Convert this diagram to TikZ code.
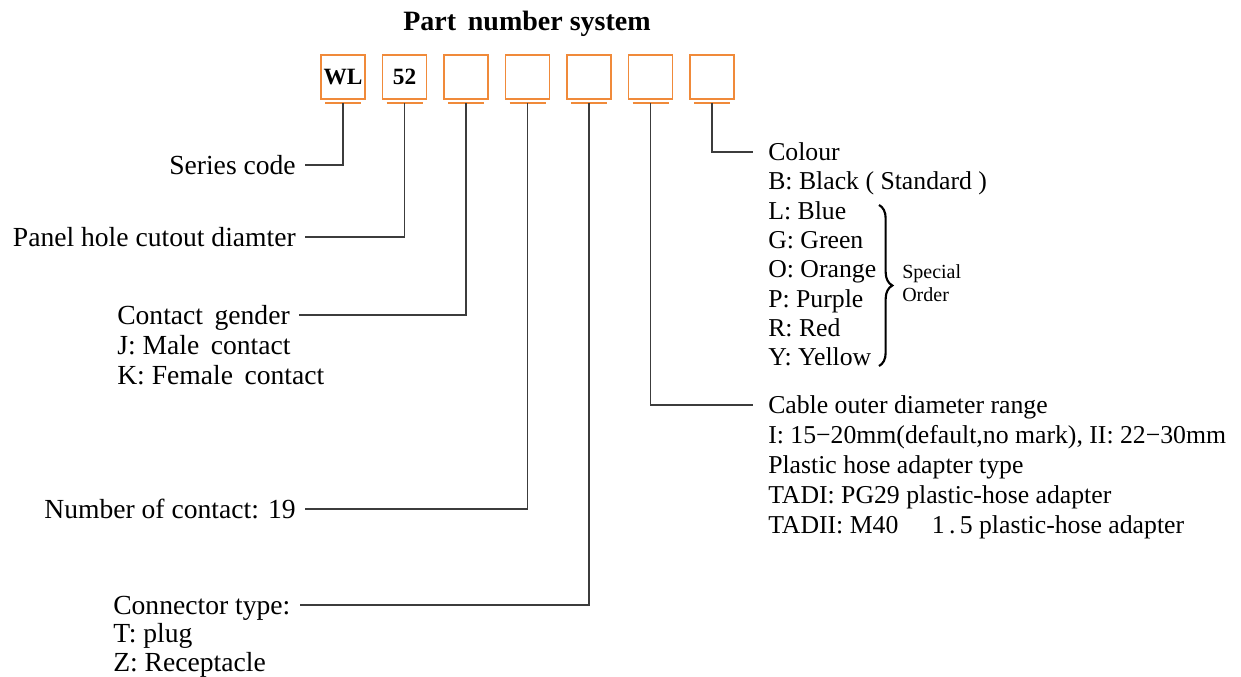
\documentclass[tikz,border=0pt]{standalone}
\usepackage{fontspec}
\setmainfont{Liberation Serif}
\usetikzlibrary{decorations.pathreplacing}
\definecolor{boxorange}{RGB}{240,138,58}
\definecolor{linegray}{RGB}{60,60,60}
\tikzset{
  pbox/.style={draw=boxorange,line width=1.3pt,minimum width=33pt,minimum height=33pt,inner sep=0pt,font=\fontsize{17.5}{20}\selectfont\bfseries},
  uline/.style={draw=boxorange,line width=1.2pt},
  conn/.style={draw=linegray,line width=1pt},
  lt/.style={inner xsep=6.75pt,inner ysep=0pt,text height=13.7pt,text depth=0pt,font=\fontsize{20.7}{24}\selectfont},
  rt/.style={inner xsep=11.25pt,inner ysep=0pt,text height=12.8pt,text depth=0pt,font=\fontsize{19.3}{22}\selectfont},
  small/.style={inner sep=0pt,text height=10pt,text depth=0pt,font=\fontsize{15}{18}\selectfont},
}
\begin{document}
\begin{tikzpicture}[x=0.75pt,y=-0.75pt]
\useasboundingbox (0,0) rectangle (1241,677);
% title
\node[inner sep=0pt,text height=14.2pt,text depth=0pt,font=\fontsize{21}{24}\selectfont\bfseries] (title) at (527,21) {Part\, number system};
% boxes
\foreach \i/\x/\t in {1/343/WL,2/404.5/52,3/466/,4/527.5/,5/589/,6/650.5/,7/712/}{
  \node[pbox] (b\i) at (\x,77) {\t};
  \coordinate (u\i) at (\x,103);
  \draw[uline] (\x-18,103) -- (\x+18,103);
}
% left texts
\node[lt,anchor=east] (series) at (305,165) {Series code};
\node[lt,anchor=east] (panel) at (305,237) {Panel hole cutout diamter};
\node[lt,anchor=west] (gender) at (108,315) {Contact\, gender};
\node[lt,anchor=west] (genJ) at (108,345) {J: Male\, contact};
\node[lt,anchor=west] (genK) at (108,375) {K: Female\, contact};
\node[lt,anchor=east] (number) at (305,509) {Number of contact: 19};
\node[lt,anchor=west] (ctype) at (104,605) {Connector type:};
\node[lt,anchor=west] (ctypeT) at (104,633) {T: plug};
\node[lt,anchor=west] (ctypeZ) at (104,662) {Z: Receptacle};
% right texts: colour
\node[rt,anchor=west] (colour) at (753,152) {Colour};
\node[rt,anchor=west] (colB) at (753,181.3) {B: Black ( Standard )};
\node[rt,anchor=west] (colL) at (753,210.6) {L: Blue};
\node[rt,anchor=west] (colG) at (753,239.9) {G: Green};
\node[rt,anchor=west] (colO) at (753,269.2) {O: Orange};
\node[rt,anchor=west] (colP) at (753,298.5) {P: Purple};
\node[rt,anchor=west] (colR) at (753,327.8) {R: Red};
\node[rt,anchor=west] (colY) at (753,357.1) {Y: Yellow};
\coordinate (braceTop) at (879,205);
\coordinate (braceBot) at (879,366);
\draw[line width=1.6pt,decorate,decoration={brace,amplitude=10pt}] (braceTop) -- (braceBot);
\node[small,anchor=west] (spec) at (902,272) {Special};
\node[small,anchor=west] (order) at (902,295) {Order};
% right texts: cable
\node[rt,anchor=west] (cable) at (753,405) {Cable outer diameter range};
\node[rt,anchor=west] (cableI) at (753,435) {I: 15\textminus20mm(default,no mark), II: 22\textminus30mm};
\node[rt,anchor=west] (hose) at (753,465) {Plastic hose adapter type};
\node[rt,anchor=west] (tadi) at (753,495) {TADI: PG29 plastic-hose adapter};
\node[rt,anchor=west] (tadii) at (753,525) {TADII: M40\hspace{1.3em}1\,.\,5 plastic-hose adapter};
% connectors
\draw[conn] (u1) |- (series.east);
\draw[conn] (u2) |- (panel.east);
\draw[conn] (u3) |- (gender.east);
\draw[conn] (u4) |- (number.east);
\draw[conn] (u5) |- (ctype.east);
\draw[conn] (u6) |- (cable.west);
\draw[conn] (u7) |- (colour.west);
\end{tikzpicture}
\end{document}
